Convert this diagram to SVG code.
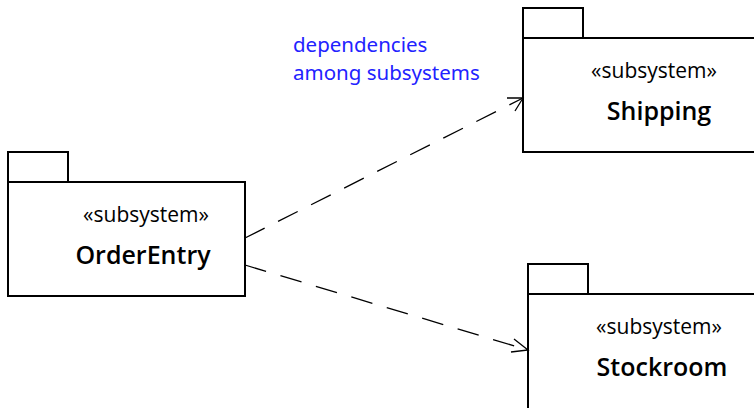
<svg xmlns="http://www.w3.org/2000/svg" width="754" height="408" viewBox="0 0 754 408">
<style>
.box{fill:#fff;stroke:#000;stroke-width:2}
.tab{fill:#fff;stroke:#000;stroke-width:2}
.st{font-family:"Open Sans","Noto Sans",sans-serif;font-size:21px;text-anchor:middle;fill:#000}
.nm{font-family:"Open Sans","Noto Sans",sans-serif;font-size:25px;font-weight:600;text-anchor:middle;fill:#000}
.note{font-family:"Noto Sans","Open Sans",sans-serif;font-size:20.5px;fill:#2222ff}
.dep{fill:none;stroke:#000;stroke-width:1.3;stroke-dasharray:22 15}
.head{fill:none;stroke:#000;stroke-width:1.3}
</style>
<rect width="754" height="408" fill="#fff"/>
<g id="OrderEntry">
<rect class="tab" x="8" y="152" width="60" height="30"/>
<rect class="box" x="8" y="182" width="237" height="114"/>
<text class="st" x="146" y="222">«subsystem»</text>
<text class="nm" x="143" y="264">OrderEntry</text>
</g>
<g id="Shipping">
<rect class="tab" x="523" y="8" width="60" height="30"/>
<rect class="box" x="523" y="38" width="240" height="114"/>
<text class="st" x="654" y="78">«subsystem»</text>
<text class="nm" x="659" y="120">Shipping</text>
</g>
<g id="Stockroom">
<rect class="tab" x="528" y="264" width="60" height="30"/>
<rect class="box" x="528" y="294" width="240" height="124"/>
<text class="st" x="659" y="334">«subsystem»</text>
<text class="nm" x="662" y="376">Stockroom</text>
</g>
<g id="note">
<text class="note" x="293" y="52">dependencies</text>
<text class="note" x="293" y="80">among subsystems</text>
</g>
<g id="connectors">
<path class="dep" d="M245 238 L523 98"/>
<path class="head" d="M507 98 L523 98 L515 111"/>
<path class="dep" d="M245 265 L528 350"/>
<path class="head" d="M511 352 L528 350 L514 339"/>
</g>
</svg>
